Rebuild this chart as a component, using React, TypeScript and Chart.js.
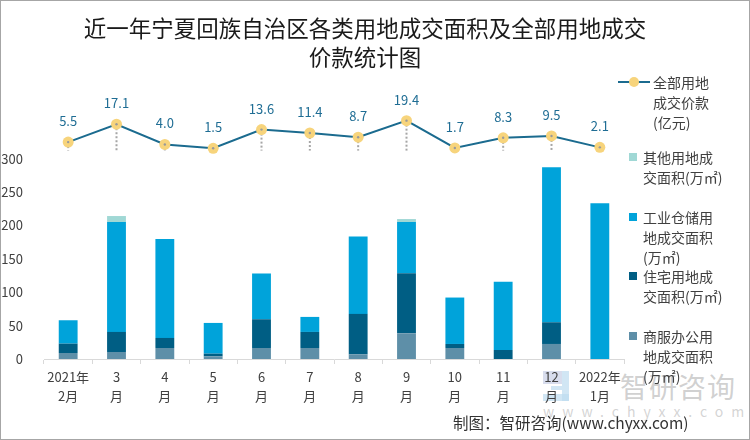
import React, { useEffect, useRef } from 'react';
import { Chart, registerables } from 'chart.js';

Chart.register(...registerables);

const categories: string[][] = [
  ['2021年', '2月'], ['3', '月'], ['4', '月'], ['5', '月'], ['6', '月'], ['7', '月'],
  ['8', '月'], ['9', '月'], ['10', '月'], ['11', '月'], ['12', '月'], ['2022年', '1月'],
];
// 万㎡
const commercialArea = [9, 10.5, 16.5, 4, 16.5, 16.5, 7, 38.5, 16.5, 0, 22.5, 0];
const residentialArea = [14, 30, 15, 4, 43, 24, 60.5, 90, 6, 13.5, 32.5, 0];
const industrialArea = [35, 164.5, 148, 46, 68.5, 22.5, 116, 76.5, 69.5, 102, 232, 233];
const otherArea = [0, 9, 0, 0, 0, 0, 0, 4.5, 0, 0, 0, 0];
// 亿元
const landPrice = [5.5, 17.1, 4.0, 1.5, 13.6, 11.4, 8.7, 19.4, 1.7, 8.3, 9.5, 2.1];

const yTickMax = 300;

const FONT = '"Noto Sans CJK SC", "Noto Sans", sans-serif';

const lineDeco = {
  id: 'lineDeco',
  beforeDatasetsDraw(chart: any) {
    const ctx = chart.ctx;
    const meta = chart.getDatasetMeta(0);
    const y0 = chart.scales.y1.getPixelForValue(0);
    ctx.save();
    ctx.setLineDash([2, 2]);
    ctx.strokeStyle = '#a6a6a6';
    ctx.lineWidth = 2;
    meta.data.forEach((pt: any) => {
      if (y0 - pt.y > 4) {
        ctx.beginPath();
        ctx.moveTo(pt.x, pt.y);
        ctx.lineTo(pt.x, y0);
        ctx.stroke();
      }
    });
    ctx.restore();
  },
  afterDatasetsDraw(chart: any) {
    const ctx = chart.ctx;
    const meta = chart.getDatasetMeta(0);
    ctx.save();
    ctx.font = `13px ${FONT}`;
    ctx.textAlign = 'center';
    ctx.textBaseline = 'middle';
    meta.data.forEach((pt: any, i: number) => {
      ctx.fillStyle = '#9a9a9a';
      ctx.beginPath();
      ctx.arc(pt.x, pt.y, 1.2, 0, Math.PI * 2);
      ctx.fill();
      ctx.fillStyle = '#1f6d94';
      ctx.fillText(landPrice[i].toFixed(1), pt.x, pt.y - 21);
    });
    ctx.restore();
  },
};

export default function App() {
  const ref = useRef<HTMLCanvasElement>(null);

  useEffect(() => {
    if (!ref.current) return;
    const chart = new Chart(ref.current, {
      type: 'bar',
      data: {
        labels: categories,
        datasets: [
          {
            type: 'line',
            label: '全部用地成交价款(亿元)',
            data: landPrice,
            yAxisID: 'y1',
            borderColor: '#1b6b8f',
            borderWidth: 2,
            pointRadius: 5.5,
            pointBackgroundColor: '#f7d47c',
            pointBorderWidth: 0,
            tension: 0,
          } as any,
          {
            label: '商服办公用地成交面积(万㎡)',
            data: commercialArea,
            backgroundColor: '#5e8fa8',
            stack: 'a',
          },
          {
            label: '住宅用地成交面积(万㎡)',
            data: residentialArea,
            backgroundColor: '#005e84',
            stack: 'a',
          },
          {
            label: '工业仓储用地成交面积(万㎡)',
            data: industrialArea,
            backgroundColor: '#00a3da',
            stack: 'a',
          },
          {
            label: '其他用地成交面积(万㎡)',
            data: otherArea,
            backgroundColor: '#a0d8d5',
            stack: 'a',
          },
        ],
      },
      options: {
        animation: false,
        responsive: false,
        devicePixelRatio: 1,
        layout: { padding: { top: 100, right: 126, left: 0, bottom: 0 } },
        datasets: { bar: { barPercentage: 0.39, categoryPercentage: 1 } } as any,
        plugins: { legend: { display: false }, title: { display: false }, tooltip: { enabled: false } },
        scales: {
          x: {
            stacked: true,
            border: { display: true, color: '#d9d9d9', width: 1 },
            grid: { display: true, drawOnChartArea: false, offset: true, tickLength: 5, color: '#d9d9d9' },
            ticks: {
              color: '#404040',
              font: { family: FONT, size: 13, lineHeight: 1.45 },
              padding: 4,
              maxRotation: 0,
              autoSkip: false,
            },
            afterFit(scale: any) { scale.height = 81; },
          },
          y: {
            stacked: true,
            min: 0,
            max: 387.7,
            border: { display: false },
            grid: { display: false },
            ticks: {
              stepSize: 50,
              color: '#404040',
              font: { family: FONT, size: 13 },
              padding: 13,
              callback: (v: any) => (Number(v) <= yTickMax ? String(v) : ''),
            },
            afterFit(scale: any) { scale.width = 44; },
          },
          y1: {
            display: false,
            position: 'right',
            min: -135.1,
            max: 32.8,
            stacked: false,
          },
        },
      },
      plugins: [lineDeco],
    });
    return () => chart.destroy();
  }, []);

  const legendText: React.CSSProperties = {
    position: 'absolute',
    fontFamily: FONT,
    fontSize: 14,
    lineHeight: '20px',
    color: '#404040',
    whiteSpace: 'nowrap',
  };
  const sq = (top: number, color: string): React.CSSProperties => ({
    position: 'absolute', left: 629, top, width: 8, height: 8, background: color,
  });
  const wm = (left: number, top: number, width: number, height: number, color: string): React.CSSProperties => ({
    position: 'absolute', left, top, width, height, background: color,
  });

  return (
    <div style={{ position: 'fixed', left: 0, top: 0, width: 750, height: 440, background: '#fff', overflow: 'hidden' }}>
      {/* watermark */}
      <div style={wm(543, 371, 19, 13, 'rgba(190,198,225,0.6)')} />
      <div style={wm(562, 371, 7, 30, 'rgba(190,220,240,0.7)')} />
      <div style={wm(543, 394, 26, 7, 'rgba(190,220,240,0.7)')} />
      <div style={wm(551, 386, 11, 4, 'rgba(190,220,240,0.7)')} />
      <div style={{ position: 'absolute', left: 620, top: 368, fontFamily: FONT, fontSize: 28, color: 'rgba(170,170,170,0.55)', letterSpacing: 1, lineHeight: '36px' }}>智研咨询</div>
      <div style={{ position: 'absolute', left: 543, top: 402, fontFamily: FONT, fontSize: 14, color: 'rgba(175,175,175,0.55)', letterSpacing: 8, lineHeight: '18px' }}>www.chyxx.com</div>

      <canvas ref={ref} width={750} height={440} style={{ position: 'absolute', left: 0, top: 0, width: 750, height: 440 }} />

      <div style={{ position: 'absolute', left: 0, top: 13, width: 730, textAlign: 'center', fontFamily: FONT, fontSize: 22.5, lineHeight: '29px', color: '#1a1a1a' }}>
        近一年宁夏回族自治区各类用地成交面积及全部用地成交<br />价款统计图
      </div>

      {/* legend */}
      <div style={{ position: 'absolute', left: 618, top: 81, width: 32, height: 2, background: '#1b6b8f' }} />
      <div style={{ position: 'absolute', left: 629, top: 77, width: 10, height: 10, borderRadius: 5, background: '#f7d47c' }} />
      <div style={{ ...legendText, left: 653, top: 72 }}>全部用地<br />成交价款<br />(亿元)</div>

      <div style={sq(153, '#a0d8d5')} />
      <div style={{ ...legendText, left: 643, top: 147 }}>其他用地成<br />交面积(万㎡)</div>

      <div style={sq(213, '#00a3da')} />
      <div style={{ ...legendText, left: 643, top: 207 }}>工业仓储用<br />地成交面积<br />(万㎡)</div>

      <div style={sq(272, '#005e84')} />
      <div style={{ ...legendText, left: 643, top: 266 }}>住宅用地成<br />交面积(万㎡)</div>

      <div style={sq(332, '#5e8fa8')} />
      <div style={{ ...legendText, left: 643, top: 326 }}>商服办公用<br />地成交面积<br />(万㎡)</div>

      <div style={{ position: 'absolute', left: 453, top: 412, fontFamily: FONT, fontSize: 15.5, lineHeight: '20px', color: '#333' }}>
        制图：智研咨询(www.chyxx.com)
      </div>

      <div style={{ position: 'absolute', left: 0, top: 0, width: 750, height: 440, boxSizing: 'border-box', border: '1px solid #a6a6a6', pointerEvents: 'none' }} />
    </div>
  );
}
